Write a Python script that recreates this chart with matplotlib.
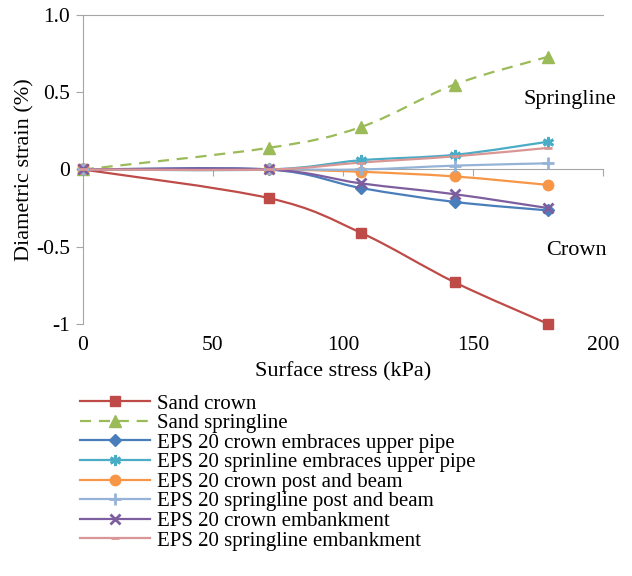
import numpy as np
import matplotlib
matplotlib.use("Agg")
import matplotlib.pyplot as plt
from matplotlib.path import Path
from matplotlib.patches import PathPatch
from matplotlib.lines import Line2D

plt.rcParams["font.family"] = ["Liberation Serif", "DejaVu Serif"]

# data
stress = [0, 71.5, 107, 143, 179]
sand_crown = [0, -0.185, -0.41, -0.73, -1.0]
sand_spring = [0, 0.14, 0.275, 0.55, 0.73]
eps_crown_emb_pipe = [0, 0, -0.12, -0.21, -0.265]
eps_spring_emb_pipe = [0, 0, 0.06, 0.095, 0.18]
eps_crown_post = [0, 0, -0.015, -0.045, -0.10]
eps_spring_post = [0, 0, 0.0, 0.025, 0.04]
eps_crown_embank = [0, 0, -0.09, -0.16, -0.25]
eps_spring_embank = [0, 0, 0.045, 0.085, 0.14]

labels = [
    "Sand crown",
    "Sand springline",
    "EPS 20 crown embraces upper pipe",
    "EPS 20 sprinline embraces upper pipe",
    "EPS 20 crown post and beam",
    "EPS 20 springline post and beam",
    "EPS 20 crown embankment",
    "EPS 20 springline embankment",
]
series = [sand_crown, sand_spring, eps_crown_emb_pipe, eps_spring_emb_pipe,
          eps_crown_post, eps_spring_post, eps_crown_embank, eps_spring_embank]
colors = ["#BE4B48", "#9BBB59", "#4A7EBB", "#4BACC6",
          "#F79646", "#95B3D7", "#7D5FA0", "#D99694"]
markers = ["s", "^", "D", (6, 2, 0), "o", "+", "x", "_"]
msizes = [7, 8, 6, 8, 7.5, 8, 7, 6]
styles = ["-", (0, (5, 3.5)), "-", "-", "-", "-", "-", "-"]

FS = 16


def smooth_path(x, y):
    """Excel-style smoothed line as cubic Bezier segments."""
    pts = np.column_stack([x, y]).astype(float)
    pad = np.vstack([pts[0], pts, pts[-1]])
    verts = [pts[0]]
    codes = [Path.MOVETO]
    for i in range(len(pts) - 1):
        p0, p1, p2, p3 = pad[i], pad[i + 1], pad[i + 2], pad[i + 3]
        verts += [p1 + (p2 - p0) / 6, p2 - (p3 - p1) / 6, p2]
        codes += [Path.CURVE4] * 3
    return Path(verts, codes)


fig = plt.figure(figsize=(6.32, 5.76), dpi=100)
ax = fig.add_axes([0.131, 0.4375, 0.823, 0.5365])

grey = "#A6A6A6"
handles = []
for ys, c, m, ms, ls, lab in zip(series, colors, markers, msizes, styles, labels):
    mew = 2 if m in ("+", "x", "_", (6, 2, 0)) else 1
    ax.add_patch(PathPatch(smooth_path(stress, ys), facecolor="none",
                           edgecolor=c, lw=1.6, linestyle=ls, zorder=3))
    ax.plot(stress, ys, linestyle="none", marker=m, ms=ms, color=c,
            mec=c, mew=mew, clip_on=False, zorder=4)
    handles.append(Line2D([], [], color=c, lw=1.6, linestyle=ls, marker=m,
                          ms=ms, mew=mew))

ax.set_xlim(0, 200)
ax.set_ylim(-1, 1)

ax.spines["right"].set_visible(False)
for s in ("left", "top", "bottom"):
    ax.spines[s].set_color(grey)
ax.spines["bottom"].set_position(("data", 0))
ax.spines["bottom"].set_zorder(2)

ax.set_yticks([-1, -0.5, 0, 0.5, 1.0])
ax.set_yticklabels(["-1", "-0.5", "0", "0.5", "1.0"])
ax.tick_params(axis="y", direction="out", length=5, color=grey,
               labelsize=FS - 0.5, pad=4)
ax.set_xticks([50, 100, 150, 200])
ax.tick_params(axis="x", direction="out", length=5, color=grey,
               labelbottom=False)

sec = ax.secondary_xaxis(0.0)
sec.set_xticks([0, 50, 100, 150, 200])
sec.tick_params(length=0, labelsize=FS - 0.5, pad=9)
sec.spines["bottom"].set_visible(False)

sec.set_xlabel("Surface stress (kPa)", fontsize=FS, labelpad=5)
ax.set_ylabel("Diametric strain (%)", fontsize=FS, labelpad=1)

ax.text(187.3, 0.45, "Springline", fontsize=FS, ha="center", va="center")
ax.text(190, -0.527, "Crown", fontsize=FS, ha="center", va="center")

fig.legend(handles, labels, loc="upper left", bbox_to_anchor=(0.1266, 0.316),
           frameon=False, fontsize=15, handlelength=3.35, handletextpad=0.34,
           labelspacing=0.0, borderaxespad=0, borderpad=0)

fig.savefig("out.png", dpi=100, facecolor="white")
